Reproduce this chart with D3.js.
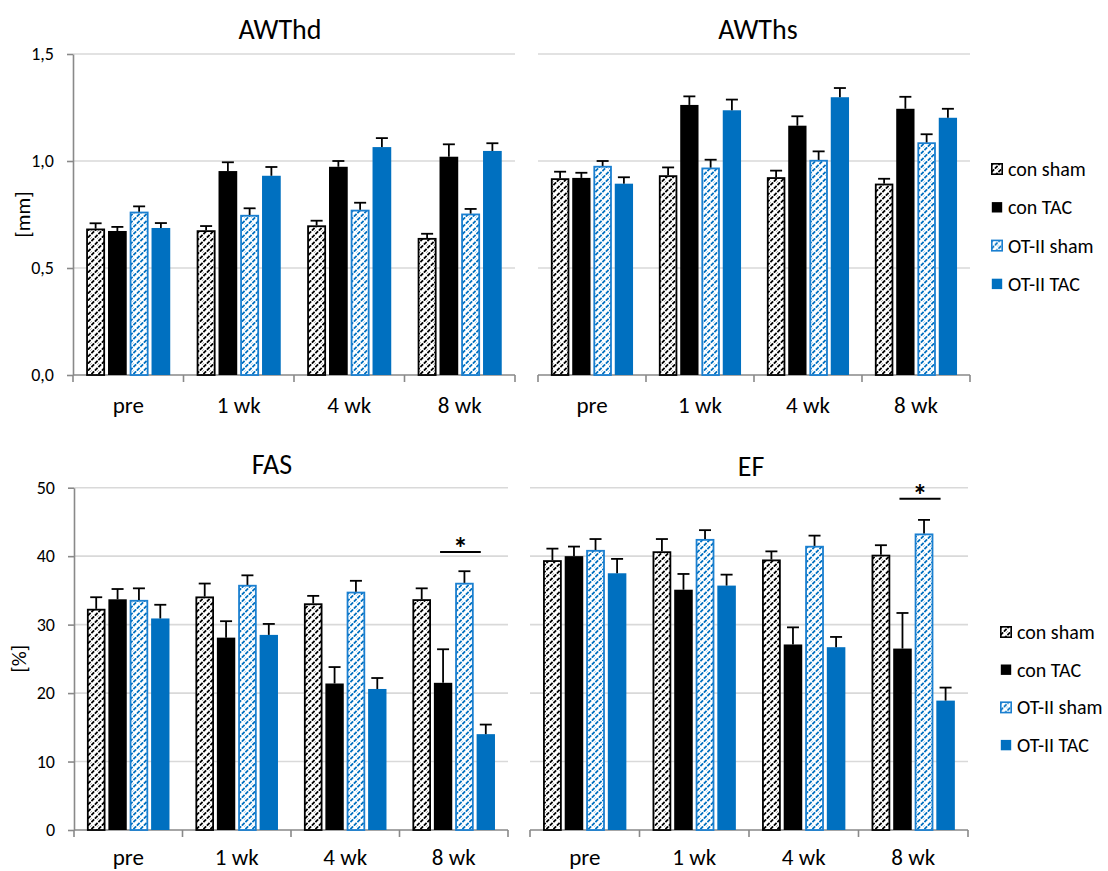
<!DOCTYPE html>
<html>
<head>
<meta charset="utf-8">
<script src="https://cdn.jsdelivr.net/npm/d3@7"></script>
<style>
body { margin: 0; background: #fff; }
svg text { font-family: Calibri, Carlito, Lato, sans-serif; fill: #000; }
</style>
</head>
<body>
<div id="chart"></div>
<script>
var categories = ["pre", "1 wk", "4 wk", "8 wk"];
var groups = ["con sham", "con TAC", "OT-II sham", "OT-II TAC"];

// rows follow groups, columns follow categories
var awthdMean = [
  [0.684, 0.676, 0.699, 0.640],
  [0.673, 0.953, 0.973, 1.020],
  [0.763, 0.748, 0.772, 0.754],
  [0.687, 0.931, 1.065, 1.047]
];
var awthdSem = [
  [0.025, 0.020, 0.022, 0.020],
  [0.019, 0.041, 0.027, 0.058],
  [0.025, 0.031, 0.033, 0.022],
  [0.023, 0.041, 0.042, 0.036]
];
var awthsMean = [
  [0.919, 0.933, 0.924, 0.894],
  [0.921, 1.262, 1.165, 1.244],
  [0.977, 0.969, 1.005, 1.087],
  [0.894, 1.237, 1.298, 1.202]
];
var awthsSem = [
  [0.031, 0.037, 0.031, 0.023],
  [0.024, 0.040, 0.044, 0.056],
  [0.023, 0.037, 0.040, 0.038],
  [0.030, 0.050, 0.043, 0.042]
];
var fasMean = [
  [32.3, 34.1, 33.1, 33.7],
  [33.7, 28.1, 21.4, 21.5],
  [33.6, 35.8, 34.8, 36.1],
  [30.9, 28.5, 20.6, 14.0]
];
var fasSem = [
  [1.7, 1.9, 1.1, 1.6],
  [1.5, 2.4, 2.4, 4.9],
  [1.7, 1.4, 1.6, 1.7],
  [2.0, 1.6, 1.6, 1.4]
];
var efMean = [
  [39.4, 40.7, 39.5, 40.2],
  [40.0, 35.1, 27.1, 26.5],
  [40.9, 42.5, 41.5, 43.3],
  [37.5, 35.7, 26.7, 18.9]
];
var efSem = [
  [1.7, 1.8, 1.2, 1.4],
  [1.4, 2.3, 2.5, 5.2],
  [1.6, 1.3, 1.5, 2.0],
  [2.1, 1.6, 1.5, 1.9]
];
var mmTicks = [0, 0.5, 1.0, 1.5];
var pctTicks = [0, 10, 20, 30, 40, 50];
// significance bar: category and height
var fasSig = ["8 wk", 40.6];
var efSig = ["8 wk", 48.4];

var blue = "#0070c0";
var fills = ["url(#hatchBlack)", "#000", "url(#hatchBlue)", blue];
var strokes = ["#000", "none", "#1a7fd0", "none"];

var svg = d3.select("#chart").append("svg")
  .attr("width", 1108)
  .attr("height", 871);

var defs = svg.append("defs");
function hatch(id, color) {
  var p = defs.append("pattern")
    .attr("id", id)
    .attr("patternUnits", "userSpaceOnUse")
    .attr("width", 7).attr("height", 7);
  p.append("rect").attr("width", 7).attr("height", 7).attr("fill", "#fff");
  p.append("path")
    .attr("d", "M0.4,3.1 L3.1,0.4 M3.9,6.6 L6.6,3.9 M-0.6,7.6 L0.4,6.6 M6.6,0.4 L7.6,-0.6")
    .attr("stroke", color)
    .attr("stroke-width", 1.8)
    .attr("fill", "none");
}
hatch("hatchBlack", "#000");
hatch("hatchBlue", blue);

var comma = d3.formatLocale({decimal: ",", thousands: ".", grouping: [3], currency: ["", ""]});

function panel(o) {
  var g = svg.append("g");
  var x = d3.scaleBand().domain(categories).range([o.left, o.right])
    .paddingInner(0.24).paddingOuter(0.12);
  var xs = d3.scaleBand().domain(groups).range([0, x.bandwidth()]).paddingInner(0.14);
  var y = d3.scaleLinear().domain([0, d3.max(o.ticks)]).range([o.bottom, o.top]);

  g.selectAll(".grid")
    .data(o.ticks.filter(function(t) { return t > 0; }))
    .enter().append("line")
      .attr("x1", o.left).attr("x2", o.right)
      .attr("y1", y).attr("y2", y)
      .attr("stroke", "#d9d9d9").attr("stroke-width", 1.6);

  if (o.axis) {
    var ax = g.append("g")
      .attr("transform", "translate(" + o.left + ",0)")
      .call(d3.axisLeft(y).tickValues(o.ticks).tickSize(6).tickSizeOuter(0)
        .tickPadding(13).tickFormat(o.format));
    ax.select(".domain").attr("stroke", "#898989").attr("stroke-width", 1.6);
    ax.selectAll(".tick line").attr("stroke", "#898989").attr("stroke-width", 1.6);
    ax.selectAll(".tick text").style("font-size", "18px").attr("fill", "#000");
    g.append("text")
      .attr("transform", "translate(" + o.labelX + "," + (o.top + o.bottom) / 2 + ") rotate(-90)")
      .attr("text-anchor", "middle")
      .attr("dy", "0.35em")
      .style("font-size", "21px")
      .text(o.yLabel);
  }

  // category axis
  g.append("line")
    .attr("x1", o.left).attr("x2", o.right)
    .attr("y1", o.bottom).attr("y2", o.bottom)
    .attr("stroke", "#898989").attr("stroke-width", 1.6);
  g.selectAll(".xtick")
    .data(d3.range(categories.length + 1))
    .enter().append("line")
      .attr("x1", function(i) { return o.left + i * x.step(); })
      .attr("x2", function(i) { return o.left + i * x.step(); })
      .attr("y1", o.bottom).attr("y2", o.bottom + 7)
      .attr("stroke", "#898989").attr("stroke-width", 1.6);
  g.selectAll(".xlabel")
    .data(categories)
    .enter().append("text")
      .attr("x", function(d) { return x(d) + x.bandwidth() / 2; })
      .attr("y", o.bottom + o.labelGap)
      .attr("text-anchor", "middle")
      .style("font-size", "23px")
      .text(function(d) { return d; });

  var rows = [];
  groups.forEach(function(s, si) {
    categories.forEach(function(c, ci) {
      rows.push({s: s, si: si, c: c, v: o.mean[si][ci], e: o.sem[si][ci]});
    });
  });

  g.selectAll(".bar")
    .data(rows)
    .enter().append("rect")
      .attr("x", function(d) { return x(d.c) + xs(d.s) + (d.si % 2 === 0 ? 0.8 : 0); })
      .attr("y", function(d) { return y(d.v) + (d.si % 2 === 0 ? 0.8 : 0); })
      .attr("width", function(d) { return xs.bandwidth() - (d.si % 2 === 0 ? 1.6 : 0); })
      .attr("height", function(d) { return o.bottom - y(d.v) - (d.si % 2 === 0 ? 0.8 : 0); })
      .attr("fill", function(d) { return fills[d.si]; })
      .attr("stroke", function(d) { return strokes[d.si]; })
      .attr("stroke-width", 1.8);

  var err = g.selectAll(".err").data(rows).enter().append("g")
    .attr("stroke", "#000").attr("stroke-width", 1.8);
  err.append("line")
    .attr("x1", function(d) { return x(d.c) + xs(d.s) + xs.bandwidth() / 2; })
    .attr("x2", function(d) { return x(d.c) + xs(d.s) + xs.bandwidth() / 2; })
    .attr("y1", function(d) { return y(d.v); })
    .attr("y2", function(d) { return y(d.v + d.e); });
  err.append("line")
    .attr("x1", function(d) { return x(d.c) + xs(d.s) + xs.bandwidth() / 2 - 6; })
    .attr("x2", function(d) { return x(d.c) + xs(d.s) + xs.bandwidth() / 2 + 6; })
    .attr("y1", function(d) { return y(d.v + d.e); })
    .attr("y2", function(d) { return y(d.v + d.e); });

  if (o.sig) {
    var xa = x(o.sig[0]) + xs(groups[1]) + xs.bandwidth() / 2 - 3;
    var xb = x(o.sig[0]) + xs(groups[3]) + xs.bandwidth() / 2 - 5;
    g.append("line")
      .attr("x1", xa).attr("x2", xb)
      .attr("y1", y(o.sig[1])).attr("y2", y(o.sig[1]))
      .attr("stroke", "#000").attr("stroke-width", 2);
    g.append("text")
      .attr("x", (xa + xb) / 2)
      .attr("y", y(o.sig[1]) + 6)
      .attr("text-anchor", "middle")
      .style("font-size", "30px")
      .style("font-weight", "bold")
      .text("*");
  }

  g.append("text")
    .attr("x", o.titleX).attr("y", o.titleY)
    .attr("text-anchor", "middle")
    .style("font-size", "28px")
    .text(o.title);

  if (o.legend) {
    var lg = g.selectAll(".legend")
      .data(groups)
      .enter().append("g")
        .attr("transform", function(d, i) {
          return "translate(" + o.legend[0] + "," + (o.legend[1] + i * o.legend[2]) + ")";
        });
    lg.append("rect")
      .attr("x", 0.8).attr("y", -5.2)
      .attr("width", 10.4).attr("height", 10.4)
      .attr("fill", function(d, i) { return fills[i]; })
      .attr("stroke", function(d, i) { return i % 2 === 0 ? strokes[i] : "none"; })
      .attr("stroke-width", 1.6);
    lg.append("text")
      .attr("x", 17)
      .attr("dy", "0.35em")
      .style("font-size", "20px")
      .text(function(d) { return d; });
  }
}

var fmtMm = function(d) { return comma.format(".1f")(d); };

panel({title: "AWThd", titleX: 280, titleY: 39, mean: awthdMean, sem: awthdSem,
  ticks: mmTicks, format: fmtMm, left: 73, right: 515, top: 54, bottom: 375, labelGap: 38,
  axis: true, yLabel: "[mm]", labelX: 23});
panel({title: "AWThs", titleX: 758, titleY: 39, mean: awthsMean, sem: awthsSem,
  ticks: mmTicks, left: 538, right: 970, top: 54, bottom: 375, labelGap: 38,
  legend: [991, 169, 38.3]});
panel({title: "FAS", titleX: 272, titleY: 474, mean: fasMean, sem: fasSem,
  ticks: pctTicks, format: d3.format("d"), left: 74, right: 508, top: 487.7, bottom: 830,
  labelGap: 35, axis: true, yLabel: "[%]", labelX: 19, sig: fasSig});
panel({title: "EF", titleX: 751, titleY: 476, mean: efMean, sem: efSem,
  ticks: pctTicks, left: 530, right: 968, top: 487.7, bottom: 830, labelGap: 35,
  sig: efSig, legend: [1000, 632, 37.7]});
</script>
</body>
</html>
